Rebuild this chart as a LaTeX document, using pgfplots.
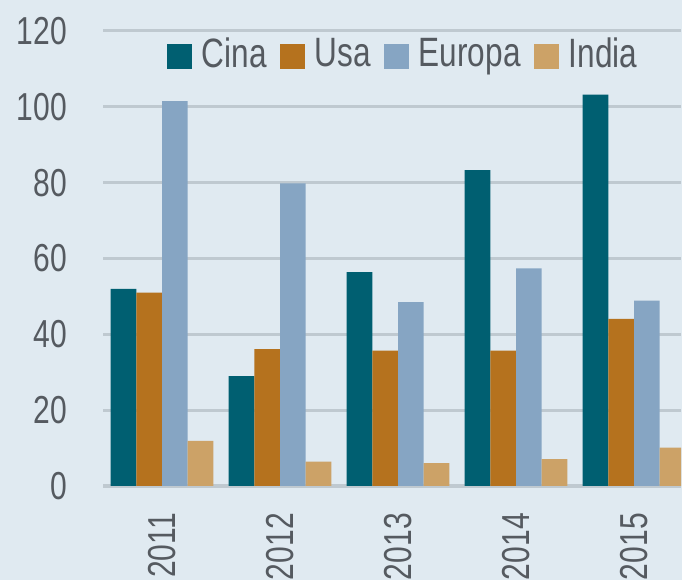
\documentclass[border=0pt]{standalone}
\usepackage{fontspec}
\setmainfont{Liberation Sans}[FakeStretch=0.77]
\usepackage{pgfplots}
\pgfplotsset{compat=1.18}
\definecolor{bgc}{HTML}{E0EAF1}
\definecolor{gridc}{HTML}{BFC9D0}
\definecolor{txtc}{HTML}{555A60}
\definecolor{cina}{HTML}{005F71}
\definecolor{usa}{HTML}{B5721E}
\definecolor{europa}{HTML}{86A5C3}
\definecolor{india}{HTML}{CCA267}
\begin{document}
\begin{tikzpicture}
\useasboundingbox (0,0) rectangle (682bp,580bp);
\clip (0,0) rectangle (682bp,580bp);
\fill[bgc] (0,0) rectangle (682bp,580bp);
\begin{axis}[
  at={(103bp,94bp)}, anchor=south west,
  scale only axis, width=578.2bp, height=455bp,
  xmin=-0.5, xmax=4.4, ymin=0, ymax=120,
  ytick={0,20,...,120},
  xtick={0,1,2,3,4},
  xticklabels={2011,2012,2013,2014,2015},
  ymajorgrids,
  major grid style={draw=gridc, line width=3bp},
  axis line style={draw=none},
  tick style={draw=none},
  major tick length=0pt,
  /pgf/number format/assume math mode=true,
  ticklabel style={font=\fontsize{39bp}{44bp}\selectfont, text=txtc, inner sep=0pt},
  yticklabel style={anchor=east, xshift=-36bp},
  xticklabel style={rotate=90, anchor=east},
  xticklabel shift=27bp,
  ybar, bar width=0.218,
  legend columns=4,
  legend style={at={(0.110,0.9505)}, anchor=west, draw=none, fill=none, inner sep=0pt,
    font=\fontsize{41bp}{46bp}\selectfont, text=txtc,
    nodes={inner sep=0pt, anchor=west},
    /tikz/every even column/.append style={column sep=13bp}},
  legend image code/.code={\fill[#1] (0bp,-16bp) rectangle (25bp,9bp); \path (35bp,0bp);},
]
\addplot[fill=cina, draw=none, bar shift=-0.327] coordinates {(0,52) (1,29) (2,56.4) (3,83.3) (4,103.2)};
\addplot[fill=usa, draw=none, bar shift=-0.109] coordinates {(0,51) (1,36.1) (2,35.7) (3,35.7) (4,44.1)};
\addplot[fill=europa, draw=none, bar shift=0.109] coordinates {(0,101.5) (1,79.8) (2,48.5) (3,57.4) (4,48.9)};
\addplot[fill=india, draw=none, bar shift=0.327] coordinates {(0,11.9) (1,6.4) (2,6.0) (3,7.1) (4,10.1)};
\legend{Cina,Usa,Europa,India}
\end{axis}
\end{tikzpicture}
\end{document}
